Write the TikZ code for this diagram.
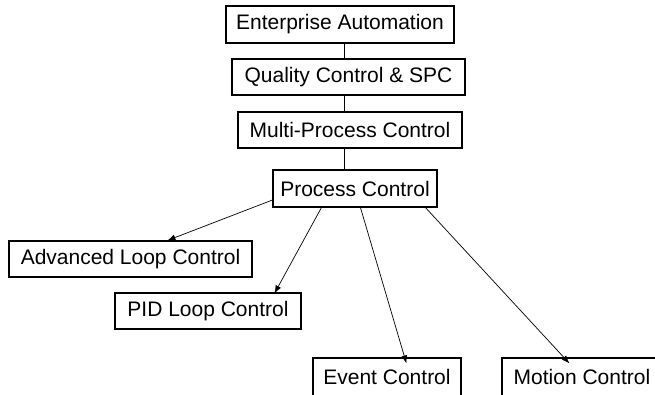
\documentclass[tikz,border=0pt]{standalone}
\usepackage{fontspec}
\setmainfont{Liberation Sans}
\usetikzlibrary{arrows.meta}
\begin{document}
\begin{tikzpicture}[x=1pt,y=-1pt,
  box/.style={draw,line width=1.1pt,inner sep=0pt,font=\fontsize{21}{24}\selectfont},
  link/.style={line width=0.9pt},
  arr/.style={line width=0.7pt,-{Latex[length=8pt,width=6pt]}}]
\useasboundingbox (0,0) rectangle (655,394);
\node[box,minimum width=228pt,minimum height=37pt] (ent) at (340,24.5) {Enterprise Automation};
\node[box,minimum width=233pt,minimum height=36pt] (qc) at (348.5,77) {Quality Control \& SPC};
\node[box,minimum width=224pt,minimum height=36pt] (mp) at (350,130) {Multi-Process Control};
\node[box,minimum width=164pt,minimum height=37pt] (pc) at (355,188.5) {Process Control};
\node[box,minimum width=243pt,minimum height=36pt] (adv) at (130.5,259) {Advanced Loop Control};
\node[box,minimum width=186pt,minimum height=36pt] (pid) at (208,311) {PID Loop Control};
\node[box,minimum width=148pt,minimum height=38pt] (ev) at (387,377) {Event Control};
\node[box,minimum width=160pt,minimum height=38pt] (mo) at (582,377) {Motion Control};
\coordinate (spine) at (344,0);
\draw[link] (ent.south -| spine) -- (qc.north -| spine);
\draw[link] (qc.south -| spine) -- (mp.north -| spine);
\draw[link] (mp.south -| spine) -- (pc.north -| spine);
\draw[arr] ([yshift=-11.5pt]pc.west) -- ([xshift=159pt]adv.north west);
\draw[arr] ([xshift=49pt]pc.south west) -- ([xshift=160pt,yshift=-1pt]pid.north west);
\draw[arr] ([xshift=88pt]pc.south west) -- ([xshift=94pt,yshift=-6pt]ev.north west);
\draw[arr] ([xshift=153pt]pc.south west) -- ([xshift=68pt,yshift=-6pt]mo.north west);
\end{tikzpicture}
\end{document}
